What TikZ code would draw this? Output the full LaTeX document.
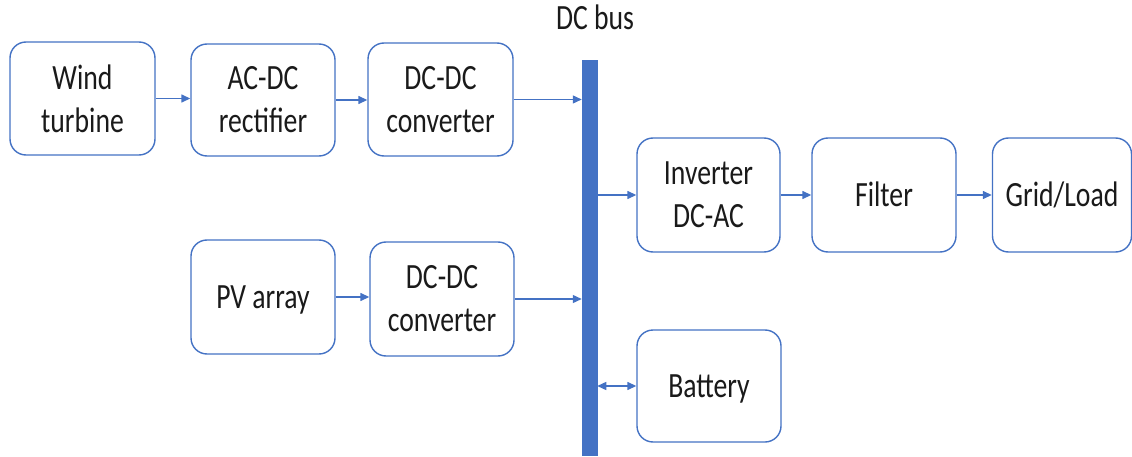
\documentclass[tikz,border=0pt]{standalone}
\usepackage{fontspec}
\setmainfont{Carlito}[FakeStretch=0.78]
\usetikzlibrary{arrows.meta}
\definecolor{boxblue}{HTML}{4472C4}
\definecolor{txt}{HTML}{1A1A1A}
\tikzset{
  blk/.style={draw=boxblue, line width=1.4pt, rounded corners=16pt, fill=white,
    align=center, text=txt, inner sep=0pt, font=\fontsize{35.5}{43}\selectfont},
  oneline/.style={text height=22.5pt, text depth=0pt},
  arr/.style={draw=boxblue, line width=1.4pt, -{Triangle[length=9pt,width=8pt]}},
  darr/.style={draw=boxblue, line width=1.4pt, {Triangle[length=9pt,width=8pt]}-{Triangle[length=9pt,width=8pt]}},
  busbar/.style={draw=boxblue, fill=boxblue, line width=0.5pt, inner sep=0pt}
}
\begin{document}
\begin{tikzpicture}[x=1pt,y=-1pt]
\useasboundingbox (0,0) rectangle (1132,457);
\node[blk, minimum width=145pt, minimum height=113pt] (wind) at (82.5,98.5) {Wind\\turbine};
\node[blk, minimum width=144pt, minimum height=112pt] (acdc) at (263,100) {AC-DC\\rectifier};
\node[blk, minimum width=145pt, minimum height=113pt] (dcdca) at (440.5,99.5) {DC-DC\\converter};
\node[busbar, minimum width=15pt, minimum height=395pt] (bus) at (589.5,257.5) {};
\node[text=txt, font=\fontsize{35.5}{43}\selectfont, anchor=base] (buslbl) at (595,30) {DC bus};
\node[blk, minimum width=143pt, minimum height=114pt] (inv) at (708.5,195) {Inverter\\DC-AC};
\node[blk, oneline, minimum width=144pt, minimum height=114pt] (filt) at (884,195) {Filter};
\node[blk, oneline, minimum width=139pt, minimum height=114pt] (grid) at (1062,195) {Grid/Load};
\node[blk, oneline, minimum width=144pt, minimum height=114pt] (pv) at (263,297) {PV array};
\node[blk, minimum width=144pt, minimum height=114pt] (dcdcb) at (442,299) {DC-DC\\converter};
\node[blk, oneline, minimum width=144pt, minimum height=112pt] (bat) at (709,386) {Battery};
\draw[arr] (wind.east) -- (wind.east -| acdc.west);
\draw[arr] (acdc.east) -- (acdc.east -| dcdca.west);
\draw[arr] (dcdca.east) -- (dcdca.east -| bus.west);
\draw[arr] (bus.east |- inv.west) -- (inv.west);
\draw[arr] (inv.east) -- (filt.west);
\draw[arr] (filt.east) -- (grid.west);
\draw[arr] (pv.east) -- (pv.east -| dcdcb.west);
\draw[arr] (dcdcb.east) -- (dcdcb.east -| bus.west);
\draw[darr] (bus.east |- bat.west) -- (bat.west);
\end{tikzpicture}
\end{document}
